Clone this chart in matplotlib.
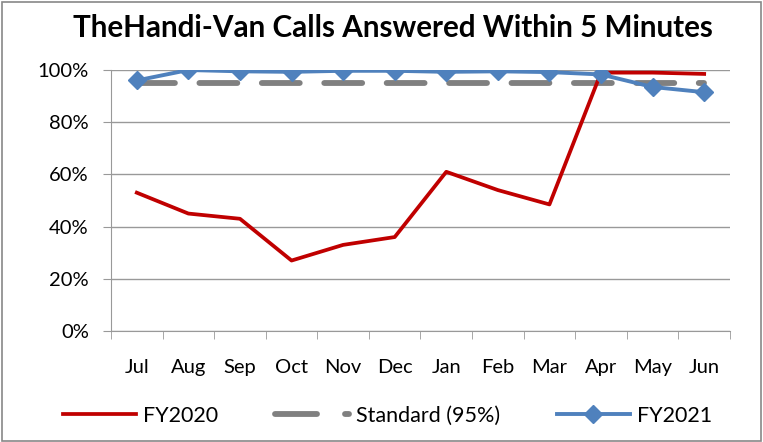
import matplotlib.pyplot as plt
from matplotlib.patches import Rectangle
from matplotlib.lines import Line2D
import numpy as np

plt.rcParams['font.family'] = ['Lato', 'DejaVu Sans']

months = ['Jul', 'Aug', 'Sep', 'Oct', 'Nov', 'Dec', 'Jan', 'Feb', 'Mar', 'Apr', 'May', 'Jun']
fy2020 = [53, 45, 43, 27, 33, 36, 61, 54, 48.5, 99, 99, 98.5]
standard = [95] * 12
fy2021 = [96, 100, 99.5, 99.3, 99.7, 99.7, 99.3, 99.5, 99.2, 98.3, 93.5, 91.5]

fig = plt.figure(figsize=(7.63, 4.42), dpi=100)
ax = fig.add_axes([0.1455, 0.2511, 0.8112, 0.5905])

x = np.arange(len(months))
l1, = ax.plot(x, fy2020, color='#C00000', lw=2.7, label='FY2020', zorder=3)
ax.plot(x, standard, color='#808080', lw=4.2, dashes=(6.5, 4.2), dash_capstyle='round', zorder=2)
l3, = ax.plot(x, fy2021, color='#4F81BD', lw=2.8, marker='D', ms=9, label='FY2021', zorder=4)

# legend proxy for the dashed standard line (dash followed by a dot)
l2 = Line2D([], [], color='#808080', lw=4.2, dashes=(7.2, 4.8), dash_capstyle='round',
            label='Standard (95%)')

ax.set_xlim(-0.5, 11.5)
ax.set_ylim(0, 100)
ax.set_yticks(range(0, 101, 20))
ax.set_yticklabels([f'{v}%' for v in range(0, 101, 20)], fontsize=14.5)
ax.set_xticks(x)
ax.set_xticklabels(months, fontsize=14.5)
ax.set_xticks(np.arange(-0.5, 12, 1), minor=True)
ax.tick_params(axis='x', which='major', length=0, pad=20)
ax.tick_params(axis='x', which='minor', length=6, color='#999999', direction='out')
ax.tick_params(axis='y', length=6, color='#999999', pad=10)
ax.grid(axis='y', color='#999999', lw=1)
ax.set_axisbelow(True)
for s in ['top', 'right']:
    ax.spines[s].set_visible(False)
for s in ['left', 'bottom']:
    ax.spines[s].set_color('#999999')

fig.text(0.515, 0.937, 'TheHandi-Van Calls Answered Within 5 Minutes',
         ha='center', va='center', fontsize=21.3, fontweight='bold')

fig.legend(handles=[l1, l2, l3], loc='center', bbox_to_anchor=(0.508, 0.059), ncol=3,
           frameon=False, fontsize=15.5, handlelength=3.4, columnspacing=2.65,
           handletextpad=0.33)

fig.patches.append(Rectangle((0.002, 0.003), 0.995, 0.993, transform=fig.transFigure,
                             fill=False, edgecolor='#888888', lw=1.2))

fig.savefig('out.png', dpi=100)
